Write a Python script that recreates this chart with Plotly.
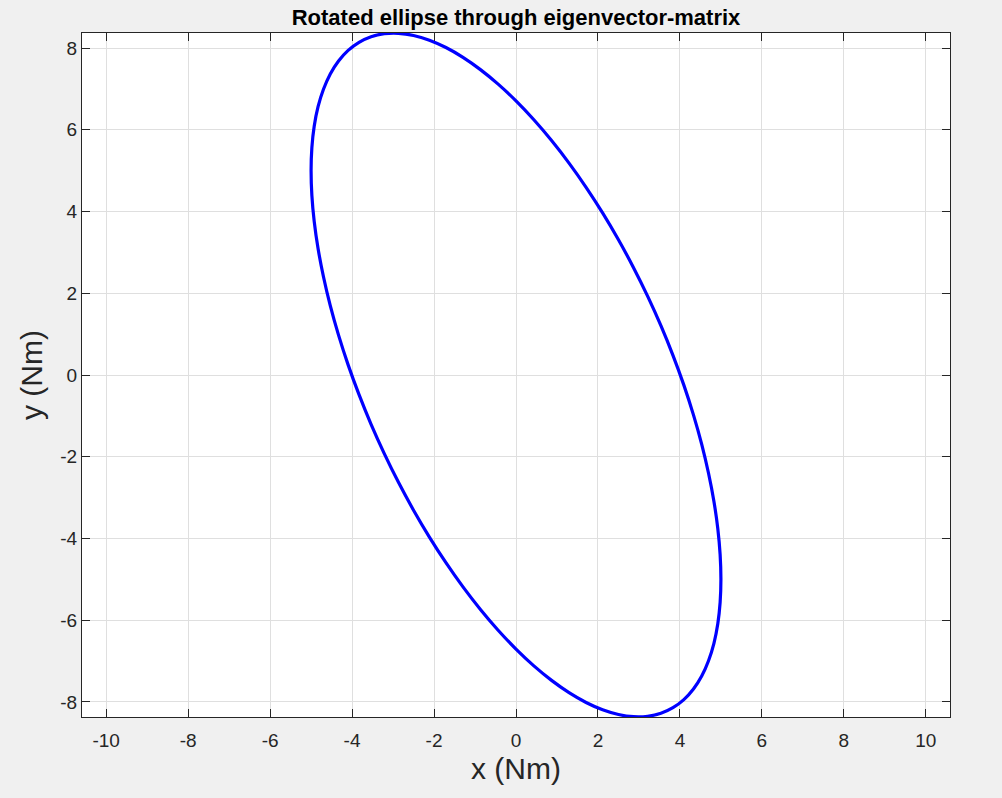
import plotly.graph_objects as go

# Points on the ellipse (closed curve)
ellipse_x = [5.0, 4.981, 4.924, 4.830, 4.698, 4.532, 4.330, 4.096, 3.830, 3.536, 3.214, 2.868,
             2.5, 2.113, 1.710, 1.294, 0.868, 0.436, 0.0, -0.436, -0.868, -1.294, -1.710, -2.113,
             -2.5, -2.868, -3.214, -3.536, -3.830, -4.096, -4.330, -4.532, -4.698, -4.830, -4.924, -4.981,
             -5.0, -4.981, -4.924, -4.830, -4.698, -4.532, -4.330, -4.096, -3.830, -3.536, -3.214, -2.868,
             -2.5, -2.113, -1.710, -1.294, -0.868, -0.436, 0.0, 0.436, 0.868, 1.294, 1.710, 2.113,
             2.5, 2.868, 3.214, 3.536, 3.830, 4.096, 4.330, 4.532, 4.698, 4.830, 4.924, 4.981, 5.0]
ellipse_y = [-5.0, -4.396, -3.759, -3.094, -2.404, -1.697, -0.976, -0.248, 0.482, 1.208, 1.924, 2.627,
             3.309, 3.967, 4.594, 5.186, 5.738, 6.247, 6.708, 7.119, 7.474, 7.774, 8.014, 8.193,
             8.309, 8.363, 8.352, 8.279, 8.142, 7.944, 7.684, 7.367, 6.992, 6.566, 6.089, 5.566,
             5.0, 4.396, 3.759, 3.094, 2.404, 1.697, 0.976, 0.248, -0.482, -1.208, -1.924, -2.627,
             -3.309, -3.967, -4.594, -5.186, -5.738, -6.247, -6.708, -7.119, -7.474, -7.774, -8.014, -8.193,
             -8.309, -8.363, -8.352, -8.279, -8.142, -7.944, -7.684, -7.367, -6.992, -6.566, -6.089, -5.566, -5.0]

x_ticks = [-10, -8, -6, -4, -2, 0, 2, 4, 6, 8, 10]
y_ticks = [-8, -6, -4, -2, 0, 2, 4, 6, 8]

font_family = "Liberation Sans, Arial, Helvetica, sans-serif"

fig = go.Figure()
fig.add_trace(go.Scatter(
    x=ellipse_x, y=ellipse_y, mode="lines",
    line=dict(color="#0000ff", width=3.2, shape="spline", smoothing=1.0),
    showlegend=False,
))

axis_common = dict(
    showline=True, linecolor="#262626", linewidth=1, mirror="allticks",
    ticks="inside", ticklen=8, tickwidth=1, tickcolor="#262626",
    showgrid=True, gridcolor="#dfdfdf", gridwidth=1, zeroline=False,
    tickfont=dict(family=font_family, size=19, color="#262626"),
)

fig.update_layout(
    width=1002, height=798,
    paper_bgcolor="#f0f0f0", plot_bgcolor="#ffffff",
    margin=dict(l=82, r=52, t=33, b=81),
    title=dict(text="<b>Rotated ellipse through eigenvector-matrix</b>", x=0.515, xanchor="center",
               y=1 - 17.5 / 798, yanchor="middle",
               font=dict(family=font_family, size=22, color="#000000")),
    xaxis=dict(range=[-10.59, 10.59], tickvals=x_ticks, ticktext=[str(v) for v in x_ticks],
               ticklabelstandoff=6,
               title=dict(text="x (Nm)", font=dict(family=font_family, size=30, color="#262626"), standoff=8),
               **axis_common),
    yaxis=dict(range=[-8.37, 8.37], tickvals=y_ticks, ticktext=[str(v) for v in y_ticks],
               title=dict(text="y (Nm)", font=dict(family=font_family, size=30, color="#262626"), standoff=8),
               **axis_common),
)

fig.write_html("out.html", config={"displayModeBar": False},
               post_script="document.body.style.margin='0';document.body.style.background='#f0f0f0';")
